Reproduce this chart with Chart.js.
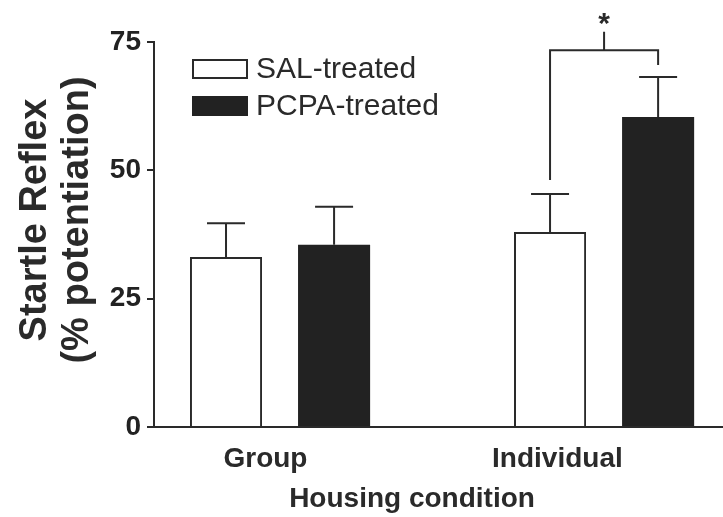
<!DOCTYPE html>
<html lang="en">
<head>
    <meta charset="utf-8">
    <title>Startle Reflex by Housing Condition</title>
    <script src="https://cdn.jsdelivr.net/npm/chart.js"></script>
    <style>
        body, html { margin: 0; padding: 0; background: white; }
        #chart { display: block; }
    </style>
</head>
<body>
    <canvas id="chart" width="723" height="517"></canvas>
    <script>
        // Data
        const categories = ['Group', 'Individual'];
        const salMeans = [33.1, 38.0];
        const salErrors = [6.6, 7.4];
        const pcpaMeans = [35.5, 60.4];
        const pcpaErrors = [7.4, 7.8];
        const yTicks = [0, 25, 50, 75];

        // Significance bracket over the Individual pair (y values)
        const bracketTop = 73.4;
        const bracketLegs = [48.1, 70.5];
        const starTick = 77.0;
        const starY = 79.5;

        const ink = '#2a2a2a';
        const fontFam = '"Liberation Sans", Arial, sans-serif';

        // x positions of the category labels (they sit left of the bar pairs)
        const xLabelAt = [-0.045, 0.856];

        const toPoints = vals => vals.map((v, i) => ({ x: i, y: v }));

        // error bars, bracket, legend and axis titles
        const extras = {
            id: 'extras',
            afterDatasetsDraw(chart) {
                const ctx = chart.ctx;
                const y = chart.scales.y;
                const x = chart.scales.x;
                const errs = [salErrors, pcpaErrors];
                const means = [salMeans, pcpaMeans];

                ctx.save();
                ctx.strokeStyle = ink;
                ctx.lineWidth = 2;

                // error bars (upper only)
                chart.data.datasets.forEach((ds, d) => {
                    chart.getDatasetMeta(d).data.forEach((bar, i) => {
                        const top = y.getPixelForValue(means[d][i] + errs[d][i]);
                        ctx.beginPath();
                        ctx.moveTo(bar.x, bar.y);
                        ctx.lineTo(bar.x, top);
                        ctx.moveTo(bar.x - 19, top);
                        ctx.lineTo(bar.x + 19, top);
                        ctx.stroke();
                    });
                });

                // bracket
                const lx = chart.getDatasetMeta(0).data[1].x;
                const rx = chart.getDatasetMeta(1).data[1].x;
                const mx = (lx + rx) / 2;
                const by = y.getPixelForValue(bracketTop);
                ctx.beginPath();
                ctx.moveTo(lx, y.getPixelForValue(bracketLegs[0]));
                ctx.lineTo(lx, by);
                ctx.lineTo(rx, by);
                ctx.lineTo(rx, y.getPixelForValue(bracketLegs[1]));
                ctx.moveTo(mx, by);
                ctx.lineTo(mx, y.getPixelForValue(starTick));
                ctx.stroke();

                ctx.fillStyle = ink;
                ctx.textAlign = 'center';
                ctx.textBaseline = 'middle';
                ctx.font = 'bold 30px ' + fontFam;
                ctx.fillText('*', mx, y.getPixelForValue(starY) + 6);

                // legend
                ctx.lineWidth = 2;
                ctx.fillStyle = 'white';
                ctx.fillRect(193, 60, 54, 18);
                ctx.strokeRect(193, 60, 54, 18);
                ctx.fillStyle = '#222';
                ctx.fillRect(192, 96, 56, 20);
                ctx.fillStyle = ink;
                ctx.textAlign = 'left';
                ctx.font = '30px ' + fontFam;
                ctx.fillText('SAL-treated', 256, 70);
                ctx.fillText('PCPA-treated', 256, 107);

                // category labels
                ctx.textAlign = 'center';
                ctx.textBaseline = 'alphabetic';
                ctx.font = 'bold 28px ' + fontFam;
                categories.forEach((c, i) => {
                    ctx.fillText(c, x.getPixelForValue(xLabelAt[i]), 467);
                });

                // x title
                ctx.fillText('Housing condition', 412, 507);

                // y title
                ctx.translate(0, 220);
                ctx.rotate(-Math.PI / 2);
                ctx.font = 'bold 38px ' + fontFam;
                ctx.fillText('Startle Reflex', 0, 46);
                ctx.fillText('(% potentiation)', 0, 88);
                ctx.restore();
            }
        };

        const chart = new Chart(document.getElementById('chart'), {
            type: 'bar',
            data: {
                datasets: [
                    {
                        label: 'SAL-treated',
                        data: toPoints(salMeans),
                        backgroundColor: 'white',
                        borderColor: ink,
                        borderWidth: 2,
                        borderSkipped: 'bottom'
                    },
                    {
                        label: 'PCPA-treated',
                        data: toPoints(pcpaMeans),
                        backgroundColor: '#222',
                        borderColor: '#222',
                        borderWidth: 0
                    }
                ]
            },
            options: {
                responsive: false,
                animation: false,
                devicePixelRatio: 1,
                categoryPercentage: 0.667,
                barPercentage: 0.667,
                layout: { padding: { top: 42, right: 0, bottom: 0, left: 0 } },
                plugins: {
                    legend: { display: false },
                    tooltip: { enabled: false }
                },
                scales: {
                    x: {
                        type: 'linear',
                        offset: false,
                        min: -0.389,
                        max: 1.367,
                        afterBuildTicks: s => { s.ticks = categories.map((c, i) => ({ value: i })); },
                        afterFit: s => { s.height = 90; },
                        ticks: { display: false },
                        grid: { display: false },
                        border: { display: true, color: ink, width: 2 }
                    },
                    y: {
                        min: 0,
                        max: 75,
                        afterBuildTicks: s => { s.ticks = yTicks.map(v => ({ value: v })); },
                        afterFit: s => { s.width = 154; },
                        ticks: {
                            color: '#222',
                            padding: 6,
                            font: { family: fontFam, size: 28, weight: 'bold' }
                        },
                        grid: {
                            drawOnChartArea: false,
                            drawTicks: true,
                            tickLength: 7,
                            color: ink,
                            lineWidth: 2
                        },
                        border: { display: true, color: ink, width: 2 }
                    }
                }
            },
            plugins: [extras]
        });
    </script>
</body>
</html>
